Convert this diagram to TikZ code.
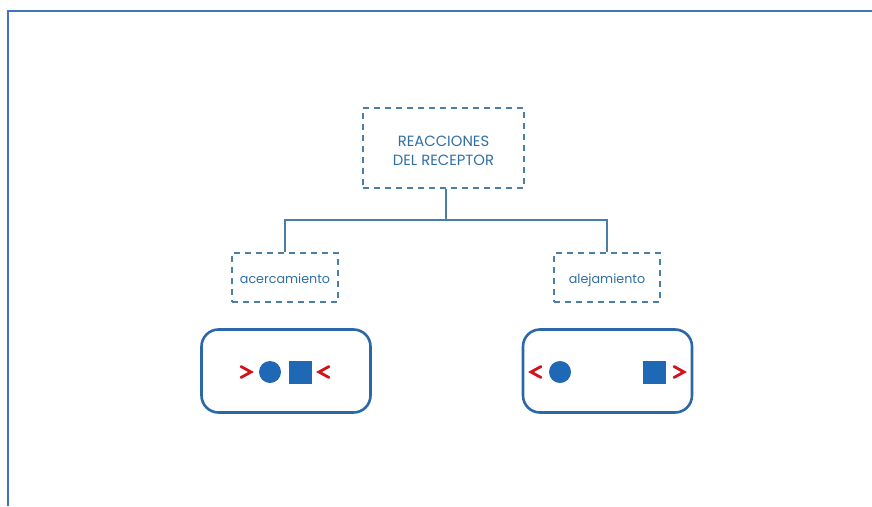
\documentclass[tikz,border=0pt]{standalone}
\usepackage{fontspec}
\setmainfont{Poppins}
\definecolor{frameblue}{HTML}{3F74BE}
\definecolor{textblue}{HTML}{2F6FA3}
\definecolor{dashblue}{HTML}{4A7FA8}
\definecolor{boxblue}{HTML}{2A68AA}
\definecolor{shapeblue}{HTML}{1F68B5}
\definecolor{arrowred}{HTML}{D3121C}
\begin{document}
\begin{tikzpicture}[x=1pt,y=-1pt,
  dashbox/.style={draw=dashblue,line width=1.3pt,dash pattern=on 6pt off 5pt,
    inner sep=0pt,text=textblue},
  roundbox/.style={draw=boxblue,line width=2.6pt,rounded corners=17pt,
    minimum width=169pt,minimum height=83pt},
  link/.style={draw=dashblue,line width=1.4pt},
  chev/.style={draw=arrowred,line width=2.8pt,line cap=round,line join=miter},
  dot/.style={circle,fill=shapeblue,minimum size=22pt,inner sep=0pt},
  sq/.style={rectangle,fill=shapeblue,minimum size=23pt,inner sep=0pt}]
\useasboundingbox (0,0) rectangle (872,506);
% outer frame: top and left edges only
\draw[frameblue,line width=2pt] (7.5,506) -- (7.5,10.5) -- (872,10.5);

% headings (text smashed so the box size stays fixed)
\node[dashbox,minimum width=161pt,minimum height=80pt,
  font=\fontsize{14.8}{19.5}\selectfont] (root) at (443.5,148)
  {\smash{\raisebox{-7.5pt}{\begin{tabular}{@{}c@{}}REACCIONES\\[-1pt]DEL RECEPTOR\end{tabular}}}};
\node[dashbox,minimum width=106pt,minimum height=49pt,
  font=\fontsize{12.7}{15}\selectfont] (near) at (285,277.5)
  {\smash{\raisebox{-6pt}{acercamiento}}};
\node[dashbox,minimum width=106pt,minimum height=49pt,
  font=\fontsize{12.7}{15}\selectfont] (far) at (607,277.5)
  {\smash{\raisebox{-6pt}{alejamiento}}};

% tree connectors
\coordinate (fork) at (446,220);
\draw[link] (root.south -| fork) -- (fork);
\draw[link] (near.north) |- (fork) -| (far.north);

% rounded panels
\node[roundbox] (panelL) at (286,371) {};
\node[roundbox] (panelR) at (607.5,371) {};

% approach: shapes pushed together
\node[dot] (cL) at (270,372) {};
\node[sq] (sL) at (300.5,372) {};
\coordinate (aL1) at (251,372);
\coordinate (aL2) at (319,372);
\draw[chev] ([shift={(-10,-5.5)}]aL1) -- (aL1) -- ([shift={(-10,5.5)}]aL1);
\draw[chev] ([shift={(10,-5.5)}]aL2) -- (aL2) -- ([shift={(10,5.5)}]aL2);

% withdrawal: shapes pushed apart
\node[dot] (cR) at (560,372) {};
\node[sq] (sR) at (654.5,372) {};
\coordinate (aR1) at (531,372);
\coordinate (aR2) at (684,372);
\draw[chev] ([shift={(10,-5.5)}]aR1) -- (aR1) -- ([shift={(10,5.5)}]aR1);
\draw[chev] ([shift={(-10,-5.5)}]aR2) -- (aR2) -- ([shift={(-10,5.5)}]aR2);
\end{tikzpicture}
\end{document}
